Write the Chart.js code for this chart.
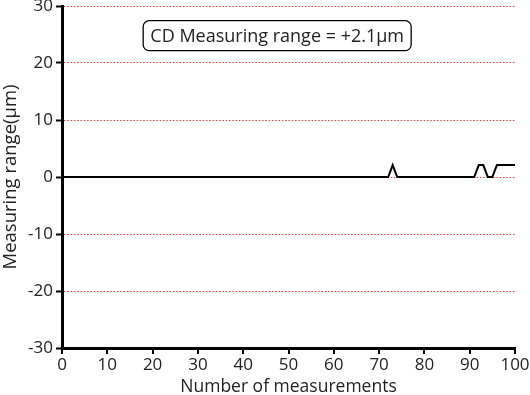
<!DOCTYPE html>
<html>
<head>
<meta charset="utf-8">
<script src="https://cdn.jsdelivr.net/npm/chart.js@4/dist/chart.umd.min.js"></script>
<style>
  body { margin: 0; background: #fff; }
  #wrap { width: 530px; height: 395px; }
</style>
</head>
<body>
<div id="wrap"><canvas id="grafico"></canvas></div>
<script>
// puntos donde cambia la curva (el resto es 0)
const medidas = [0, 72, 73, 74, 91, 92, 93, 94, 95, 96, 100];
const rango = [0, 0, 2.1, 0, 0, 2.1, 2.1, 0, 0, 2.1, 2.1];
const yTicks = [-30, -20, -10, 0, 10, 20, 30];
const xTicks = [0, 10, 20, 30, 40, 50, 60, 70, 80, 90, 100];
const nota = "CD Measuring range = +2.1\u03bcm";

const fuente = "'Open Sans', 'Noto Sans', sans-serif";

const cajaNota = {
    id: 'cajaNota',
    afterDraw(chart) {
        const ctx = chart.ctx;
        const xs = chart.scales.x, ys = chart.scales.y;
        const cx = xs.getPixelForValue(47.5);
        const cy = ys.getPixelForValue(24.8);
        const w = 268, h = 30;
        ctx.save();
        ctx.fillStyle = '#fff';
        ctx.strokeStyle = '#000';
        ctx.lineWidth = 1.3;
        ctx.beginPath();
        ctx.roundRect(cx - w / 2, cy - h / 2, w, h, 6);
        ctx.fill();
        ctx.stroke();
        ctx.fillStyle = '#222';
        ctx.font = "18px " + fuente;
        ctx.textAlign = 'center';
        ctx.textBaseline = 'middle';
        ctx.fillText(nota, cx, cy + 1);
        ctx.restore();
    }
};

const datos = medidas.map((m, i) => ({ x: m, y: rango[i] }));

new Chart(document.getElementById('grafico').getContext('2d'), {
    type: 'scatter',
    data: {
        datasets: [{
            data: datos,
            showLine: true,
            borderColor: '#000',
            borderWidth: 2,
            pointRadius: 0,
            tension: 0
        }]
    },
    options: {
        responsive: true,
        maintainAspectRatio: false,
        animation: false,
        layout: { padding: 0 },
        plugins: { legend: { display: false }, tooltip: { enabled: false } },
        scales: {
            x: {
                type: 'linear',
                min: 0, max: 100,
                afterBuildTicks: s => { s.ticks = xTicks.map(v => ({ value: v })); },
                afterFit: s => { s.height = 47; s.paddingRight = 15; s.paddingLeft = 0; },
                border: { color: '#000', width: 3 },
                grid: { drawOnChartArea: false, tickColor: '#000', tickLength: 6, lineWidth: 2 },
                ticks: { color: '#222', font: { size: 17, family: fuente }, padding: 1, maxRotation: 0 },
                title: { display: true, text: 'Number of measurements', color: '#222', font: { size: 17.5, family: fuente }, padding: { top: -3, bottom: -3 } }
            },
            y: {
                min: -30, max: 30,
                afterBuildTicks: s => { s.ticks = yTicks.map(v => ({ value: v })); },
                afterFit: s => { s.width = 62; s.paddingTop = 6; s.paddingBottom = 0; },
                border: { color: '#000', width: 3, dash: [1.6, 1.7] },
                grid: {
                    color: '#e84444',
                    lineWidth: 1,
                    tickColor: '#000',
                    tickLength: 6,
                    tickWidth: 2,
                    tickBorderDash: []
                },
                ticks: { color: '#222', font: { size: 17, family: fuente }, padding: 3 },
                title: { display: true, text: 'Measuring range(\u03bcm)', color: '#222', font: { size: 18.5, family: fuente }, padding: { top: 0, bottom: 0 } }
            }
        }
    },
    plugins: [cajaNota]
});
</script>
</body>
</html>
